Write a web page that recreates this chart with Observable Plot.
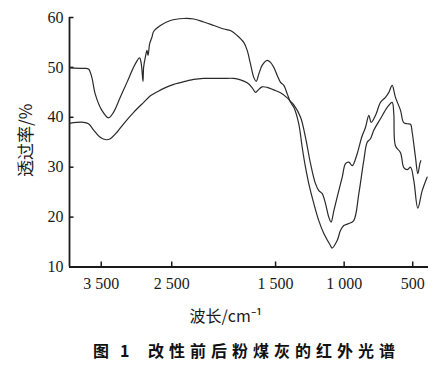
<!DOCTYPE html>
<html><head><meta charset="utf-8">
<script src="https://cdn.jsdelivr.net/npm/d3@7"></script>
<script src="https://cdn.jsdelivr.net/npm/@observablehq/plot@0.6"></script>
<style>
body{margin:0;background:#fff;width:442px;height:373px;position:relative;overflow:hidden}
#cap{position:absolute;top:340px;left:0;width:442px;height:24px;font-family:"Noto Sans CJK SC";font-weight:700;font-size:16px;color:#111;white-space:pre;line-height:20px}
#cap span{position:absolute;top:0}
</style></head><body><div id="chart"></div><div id="cap"><span style="left:93px">图</span><span style="left:120px">1</span><span style="left:148px;letter-spacing:5px">改性前后粉煤灰的红外光谱</span></div>
<script>
// Curve A (upper at left, 60% plateau)
const waveA = [3950,3757,3681,3633,3586,3491,3397,3326,3230,3135,3017,2956,2932,2908,2899,2875,2851,2836,2814,2780,2757,2661,2519,2330,2188,2046,1950,1877,1829,1780,1732,1707,1683,1659,1641,1622,1598,1561,1537,1513,1488,1464,1440,1415,1391,1367,1331,1306,1282,1258,1221,1185,1148,1100,1088,1051,1027,1003,966,930,893,857,832,808,784,735,686,650,638,626,589,565,540,516,492,463,431,395];
const transA = [49.9,49.8,49.7,48.0,44.7,41.4,39.9,41.0,44.0,47.0,50.7,51.9,50.7,47.2,50.0,52.0,53.4,52.4,54.7,56.1,57.2,58.4,59.4,59.8,59.7,59.1,58.4,57.7,57.4,56.4,55.0,53.4,50.7,48.0,47.2,48.7,50.4,51.4,51.0,50.0,48.4,47.0,46.4,44.7,43.0,42.0,38.7,34.0,30.0,26.7,22.7,19.3,16.7,14.3,13.8,15.3,17.3,18.3,18.7,19.3,24.7,31.3,35.0,35.7,37.4,39.7,42.0,43.0,40.7,34.3,32.9,29.9,29.5,30.0,27.3,21.8,25.3,28.0];
// Curve B (lower smooth at left)
const waveB = [3950,3752,3681,3610,3515,3429,3372,3277,3183,3040,2898,2803,2707,2613,2471,2282,2188,2046,1950,1877,1805,1756,1707,1670,1646,1622,1598,1561,1513,1464,1415,1391,1367,1318,1282,1245,1209,1185,1160,1136,1112,1095,1075,1051,1014,990,966,941,905,872,844,820,803,771,735,699,674,650,626,589,567,540,516,504,480,463,448,441];
const transB = [38.8,39.0,38.7,37.5,36.0,35.5,35.7,37.0,38.7,41.0,43.0,44.3,45.1,45.8,46.6,47.3,47.6,47.8,47.8,47.8,47.8,47.5,46.9,45.9,45.0,45.6,46.1,46.0,45.5,44.9,43.9,43.2,42.5,40.0,36.0,30.7,26.7,25.3,24.7,22.7,20.0,19.0,21.3,24.0,28.0,30.7,31.0,30.3,32.7,36.0,38.0,40.4,39.0,40.4,43.0,44.0,45.0,46.4,44.0,41.4,39.0,38.7,38.6,37.0,32.0,28.7,30.7,31.3];
const xTicks = [3500,2500,1500,1000,500];
const xTickLabels = ["3 500","2 500","1 500","1 000","500"];
const yTicks = [10,20,30,40,50,60];
const xLabel = "波长/cm⁻¹";
const yLabel = "透过率/%";

const A = waveA.map((w,i)=>({w, t: transA[i]}));
const B = waveB.map((w,i)=>({w, t: transB[i]}));
const W = 442, H = 330;
const ink = "#1a1a1a";
const serif = '"Liberation Serif", "Times New Roman", serif';
const plot = Plot.plot({
  width: W, height: H,
  marginLeft: 69, marginRight: 14, marginTop: 17, marginBottom: H - 266.5,
  style: {fontFamily: serif, fontSize: "16px", color: ink, background: "#fff"},
  x: {type: "linear", domain: [3950, 2000, 385], range: [69, 206.5, 428]},
  y: {domain: [10, 60]},
  marks: [
    Plot.axisX({ticks: xTicks, tickFormat: d => xTickLabels[xTicks.indexOf(d)], tickSize: 0, tickPadding: 11, label: null, fontFamily: serif, fontSize: 16}),
    Plot.axisY({ticks: yTicks, tickSize: 0, tickPadding: 6, label: null, fontFamily: serif, fontSize: 16}),
    // inward tick marks
    Plot.ruleX(xTicks, {x: d => d, y1: 10, y2: 11, stroke: ink, strokeWidth: 1.5}),
    Plot.ruleY(yTicks, {y: d => d, x1: 3950, x2: 3886, stroke: ink, strokeWidth: 1.5}),
    Plot.ruleX([3950], {y1: 10, y2: 60, stroke: ink, strokeWidth: 1.8}),
    Plot.ruleY([10], {x1: 3950, x2: 385, stroke: ink, strokeWidth: 2}),
    Plot.line(A, {x: "w", y: "t", stroke: "#2a2a2a", strokeWidth: 1.2, curve: "catmull-rom"}),
    Plot.line(B, {x: "w", y: "t", stroke: "#2a2a2a", strokeWidth: 1.2, curve: "catmull-rom"}),
    Plot.text([yLabel], {frameAnchor: "left", textAnchor: "middle", lineAnchor: "middle", dx: -43, dy: -2, rotate: -90, text: d => d, fontFamily: '"Noto Sans CJK SC"', fontSize: 17, fill: ink}),
    Plot.text([xLabel], {frameAnchor: "bottom", textAnchor: "middle", lineAnchor: "middle", dx: -23, dy: 50, text: d => d, fontFamily: '"Noto Sans CJK SC"', fontSize: 16, fill: ink})
  ]
});
document.getElementById("chart").appendChild(plot);
</script>
</body></html>
